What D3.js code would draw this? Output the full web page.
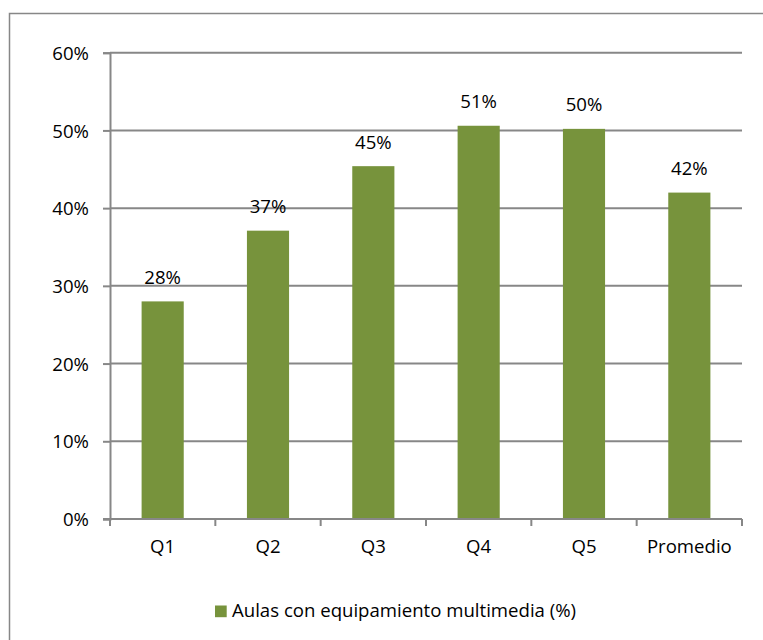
<!DOCTYPE html>
<html>
<head>
<meta charset="utf-8">
<script src="https://cdn.jsdelivr.net/npm/d3@7"></script>
<style>
  html, body { margin: 0; padding: 0; background: #fff; }
  svg text { font-family: "Open Sans", sans-serif; fill: #000; }
</style>
</head>
<body>
<svg id="chart" width="763" height="640"></svg>
<script>
// Share of classrooms with multimedia equipment by quintile
const categories = ["Q1", "Q2", "Q3", "Q4", "Q5", "Promedio"];
const values = [0.28, 0.371, 0.454, 0.506, 0.502, 0.42];
const yTicks = [0, 0.1, 0.2, 0.3, 0.4, 0.5, 0.6];
const seriesName = "Aulas con equipamiento multimedia (%)";

const W = 763, H = 640;
const margin = { top: 52.7, right: 21, bottom: 121, left: 110 };
const innerW = W - margin.left - margin.right;
const innerH = H - margin.top - margin.bottom;
const barColor = "#77933c";
const gridColor = "#878787";
const fontSize = 18.6;

const svg = d3.select("#chart");

// outer chart frame
svg.append("rect")
  .attr("x", 9.5).attr("y", 13.5)
  .attr("width", W).attr("height", H)
  .attr("fill", "none").attr("stroke", gridColor).attr("stroke-width", 1.5);

const g = svg.append("g").attr("transform", `translate(${margin.left},${margin.top})`);

const x = d3.scaleBand().domain(categories).range([0, innerW]).paddingInner(0.6).paddingOuter(0.3);
const xb = d3.scaleBand().domain(categories).range([0, innerW]);
const y = d3.scaleLinear().domain([0, 0.6]).range([innerH, 0]);
const pct = d3.format(".0%");

// horizontal gridlines
g.append("g")
  .selectAll("line")
  .data(yTicks.filter(d => d > 0))
  .join("line")
  .attr("x1", 0).attr("x2", innerW)
  .attr("y1", d => y(d)).attr("y2", d => y(d))
  .attr("stroke", gridColor).attr("stroke-width", 2);

// y axis
const yAxis = g.append("g")
  .call(d3.axisLeft(y).tickValues(yTicks).tickFormat(pct).tickSize(7).tickPadding(14));
yAxis.select(".domain").attr("stroke", gridColor).attr("stroke-width", 2);
yAxis.selectAll(".tick line").attr("stroke", gridColor).attr("stroke-width", 2);
yAxis.selectAll(".tick text").attr("font-size", fontSize).attr("font-family", "Open Sans").attr("fill", "#000").attr("dy", "0.36em");

// bars
g.append("g")
  .selectAll("rect")
  .data(categories)
  .join("rect")
  .attr("x", d => x(d))
  .attr("width", x.bandwidth())
  .attr("y", (d, i) => y(values[i]))
  .attr("height", (d, i) => innerH - y(values[i]))
  .attr("fill", barColor);

// value labels
g.append("g")
  .selectAll("text")
  .data(categories)
  .join("text")
  .attr("x", d => x(d) + x.bandwidth() / 2)
  .attr("y", (d, i) => y(values[i]) - 17.5)
  .attr("text-anchor", "middle")
  .attr("font-size", fontSize)
  .text((d, i) => pct(values[i]));

// x axis with ticks on category boundaries
const xAxisG = g.append("g").attr("transform", `translate(0,${innerH})`);
xAxisG.append("line")
  .attr("x1", -7).attr("x2", innerW)
  .attr("stroke", gridColor).attr("stroke-width", 2);
xAxisG.selectAll("line.tick")
  .data(categories.map(c => xb(c)).concat([innerW]))
  .join("line")
  .attr("class", "tick")
  .attr("x1", d => d).attr("x2", d => d)
  .attr("y1", 0).attr("y2", 7)
  .attr("stroke", gridColor).attr("stroke-width", 2);
xAxisG.selectAll("text")
  .data(categories)
  .join("text")
  .attr("x", d => xb(d) + xb.bandwidth() / 2)
  .attr("y", 33.7)
  .attr("text-anchor", "middle")
  .attr("font-size", fontSize)
  .text(d => d);

// legend
const legend = svg.append("g").attr("transform", "translate(215,605.5)");
legend.append("rect").attr("width", 11.7).attr("height", 11.7).attr("fill", barColor);
legend.append("text")
  .attr("x", 17).attr("y", 11.5)
  .attr("font-size", fontSize)
  .text(seriesName);
</script>
</body>
</html>
